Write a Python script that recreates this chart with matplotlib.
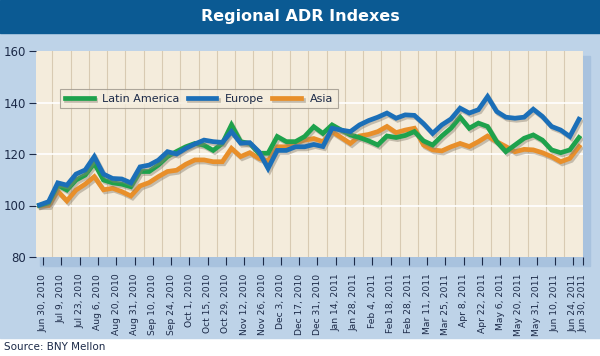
import matplotlib
matplotlib.use("Agg")
import matplotlib.pyplot as plt
import matplotlib.patheffects as pe
from matplotlib.patches import Rectangle
import numpy as np

plt.rcParams['font.family'] = ['Liberation Sans Narrow', 'DejaVu Sans']

# tick labels along the bottom
dates = ["Jun 30, 2010", "Jul 9, 2010", "Jul 23, 2010", "Aug 6, 2010", "Aug 20, 2010",
         "Aug 31, 2010", "Sep 10, 2010", "Sep 24, 2010", "Oct 1, 2010", "Oct 15, 2010",
         "Oct 29, 2010", "Nov 12, 2010", "Nov 26, 2010", "Dec 3, 2010", "Dec 17, 2010",
         "Dec 31, 2010", "Jan 14, 2011", "Jan 28, 2011", "Feb 4, 2011", "Feb 18, 2011",
         "Feb 28, 2011", "Mar 11, 2011", "Mar 25, 2011", "Apr 8, 2011", "Apr 22, 2011",
         "May 6, 2011", "May 20, 2011", "May 31, 2011", "Jun 10, 2011", "Jun 24, 2011",
         "Jun 30, 2011"]

# weekly index values
latin = [100, 101, 107.9, 106, 109.9, 111.8, 116.4, 109.9, 108.8, 108.3,
         107.3, 113.2, 113.2, 115.7, 119, 121, 122.8, 124.1, 123.4, 121.4,
         124.1, 131.3, 124.8, 124.1, 120.3, 120.3, 126.8, 124.8, 124.8, 126.8,
         130.6, 128, 131.3, 129.3, 127.4, 126.4, 125.1, 123.5, 127, 126.4,
         127.2, 128.7, 125.1, 123.5, 127, 130, 134.3, 130, 132, 130.7,
         124.8, 120.9, 123.5, 126.1, 127.4, 125.4, 121.6, 120.5, 121.6, 126.4]
europe = [100.2, 101.5, 108.8, 107.9, 112.2, 113.8, 119, 112.2, 110.5, 110.3,
          108.8, 115, 115.7, 117.6, 120.9, 120, 122.2, 123.9, 125.4, 124.8,
          124.5, 128.7, 124.2, 124.4, 120.9, 114.4, 121.4, 121.4, 122.8, 122.8,
          123.7, 122.9, 130, 129.3, 128.7, 131.3, 133, 134.3, 135.9, 133.9,
          135.2, 135, 131.8, 128, 131.3, 133.6, 137.8, 135.9, 137.2, 142.3,
          136.5, 134.3, 133.9, 134.3, 137.4, 134.6, 130.7, 129.3, 126.8, 133.5]
asia = [100, 100, 105.6, 101.8, 106, 108.3, 111.2, 106.1, 106.7, 105.4,
        103.7, 107.6, 108.9, 111.2, 113.2, 113.7, 116, 117.7, 117.7, 117,
        117, 122.2, 119, 120.5, 118.3, 117.3, 122.8, 122.8, 124.4, 125.4,
        126, 124.8, 128.7, 126.4, 124.1, 127, 127.6, 128.7, 130.7, 128.3,
        129.3, 130, 123.5, 121.6, 121.2, 122.8, 124.1, 122.9, 124.8, 127,
        124.8, 122.9, 120.9, 121.8, 121.6, 120.5, 119, 117, 118.3, 122.9]

navy = "#1c2a48"
fig = plt.figure(figsize=(6, 3.56), dpi=100)
fig.patch.set_facecolor("white")

# background panels
fig.patches.append(Rectangle((0, 1 - 338 / 356), 1, (338 - 33) / 356, transform=fig.transFigure,
                             color="#bed3e8", zorder=-3))
fig.patches.append(Rectangle((0, 1 - 33 / 356), 1, 33 / 356, transform=fig.transFigure,
                             color="#0b5a93", zorder=-3))
# shadow of plot area
fig.patches.append(Rectangle((40 / 600, 1 - 266 / 356), 550 / 600, 210 / 356,
                             transform=fig.transFigure, color="#a8c2de", zorder=-2))
fig.text(0.5, 1 - 17 / 356, "Regional ADR Indexes", color="white", fontsize=11.5,
         fontweight="bold", ha="center", va="center")
fig.text(4 / 600, 1 - 347 / 356, "Source: BNY Mellon", color=navy, fontsize=7.5, va="center")

ax = fig.add_axes([35.6 / 600, 1 - 257 / 356, 547.4 / 600, 206 / 356])
ax.set_zorder(2)
ax.set_facecolor("#f4ecdc")
for s in ax.spines.values():
    s.set_visible(False)

x = np.arange(len(asia)) / 2
shadow = [pe.SimpleLineShadow(offset=(1.2, -1.5), shadow_color="#8a8070", alpha=0.45), pe.Normal()]
ax.plot(x, asia, color="#e88f2a", lw=3.4, label="Asia", path_effects=shadow, solid_joinstyle="miter")
ax.plot(x, latin, color="#1ea24c", lw=3.4, label="Latin America", path_effects=shadow, solid_joinstyle="miter")
ax.plot(x, europe, color="#1b6fb8", lw=3.4, label="Europe", path_effects=shadow, solid_joinstyle="miter")

xticks = list(np.arange(len(dates) - 1) + 0.2) + [29.7]
ax.set_xticks(xticks)
ax.set_xticklabels(dates, rotation=90, fontsize=6.6, color=navy)
for g in np.arange(30) + 0.7:
    ax.axvline(g, color="#d8cab2", lw=0.8, zorder=0)
for g in [100, 120, 140]:
    ax.axhline(g, color="white", lw=1.2, zorder=0)
ax.set_xlim(-0.21, 29.72)
ax.set_ylim(80, 160)
ax.set_yticks([80, 100, 120, 140, 160])
ax.tick_params(axis="y", length=5, color=navy, labelcolor=navy, labelsize=8.5, pad=2)
ax.tick_params(axis="x", length=6, color=navy, pad=6, direction="out")

handles, labels = ax.get_legend_handles_labels()
order = [1, 2, 0]
leg = ax.legend([handles[i] for i in order], [labels[i] for i in order], ncol=3,
                loc="lower left", bbox_to_anchor=(0.045, 0.723, 0.507, 0.165), mode="expand",
                fontsize=8, frameon=True, fancybox=False, handlelength=2.6, borderaxespad=0)
leg.get_frame().set_facecolor("#f4ecdc")
leg.get_frame().set_edgecolor("#9c958a")
leg.get_frame().set_linewidth(0.8)
for t in leg.get_texts():
    t.set_color(navy)

fig.savefig("out.png", dpi=100)
